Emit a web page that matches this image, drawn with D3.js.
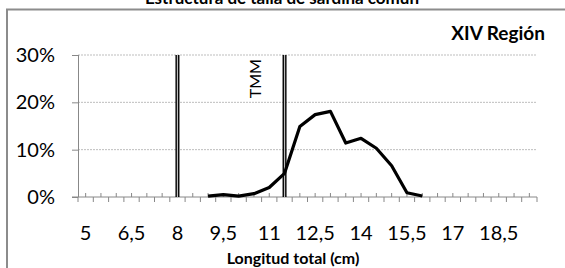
<!DOCTYPE html>
<html>
<head>
<meta charset="utf-8">
<script src="https://cdn.jsdelivr.net/npm/d3@7"></script>
<style>
  body { margin: 0; background: #fff; }
  svg { display: block; font-family: Lato, "Open Sans", sans-serif; }
</style>
</head>
<body>
<div id="chart"></div>
<script>
// Size of the picture
const width = 565;
const height = 268;
const margin = {left: 78, right: 28, top: 55, bottom: 71};

// Length classes (cm), one band each
const categories = [5, 5.5, 6, 6.5, 7, 7.5, 8, 8.5, 9, 9.5, 10, 10.5, 11, 11.5, 12,
                    12.5, 13, 13.5, 14, 14.5, 15, 15.5, 16, 16.5, 17, 17.5, 18, 18.5, 19, 19.5];
// Classes that have a frequency, and their share (fraction)
const lengths = [9, 9.5, 10, 10.5, 11, 11.5, 12, 12.5, 13, 13.5, 14, 14.5, 15, 15.5, 16];
const freqs = [0.002, 0.005, 0.002, 0.007, 0.020, 0.050, 0.149, 0.174, 0.181, 0.114, 0.124, 0.103, 0.066, 0.009, 0.002];
// Labelled classes on the x axis
const xLabels = [5, 6.5, 8, 9.5, 11, 12.5, 14, 15.5, 17, 18.5];
const yTicks = [0, 0.1, 0.2, 0.3];
// Reference lines (cm)
const refLines = [8, 11.5];
const refLabel = "TMM";

const title = "Estructura de talla de sardina común";
const region = "XIV Región";
const xTitle = "Longitud total (cm)";

const svg = d3.select("#chart")
  .append("svg")
  .attr("width", width)
  .attr("height", height);

// Chart area frame (runs off the picture at right and bottom)
svg.append("rect")
  .attr("x", 7)
  .attr("y", 9.5)
  .attr("width", 600)
  .attr("height", 300)
  .attr("fill", "none")
  .attr("stroke", "#8c8c8c")
  .attr("stroke-width", 2);

// Title, mostly cut off at top
svg.append("text")
  .attr("x", 282)
  .attr("y", 4)
  .attr("text-anchor", "middle")
  .attr("font-size", "17px")
  .attr("font-weight", "bold")
  .text(title);

// Scales
const xScale = d3.scaleBand()
  .domain(categories)
  .range([margin.left, width - margin.right]);

const yScale = d3.scaleLinear()
  .domain([0, 0.3])
  .range([height - margin.bottom, margin.top]);

const xc = d => xScale(d) + xScale.bandwidth() / 2;

// Gridlines
svg.append("g")
  .selectAll("line")
  .data(yTicks.filter(d => d > 0))
  .join("line")
    .attr("x1", margin.left)
    .attr("x2", width - margin.right)
    .attr("y1", d => yScale(d))
    .attr("y2", d => yScale(d))
    .attr("stroke", "#bdbdbd")
    .attr("stroke-dasharray", "2,1");

// Y axis
const yAxis = svg.append("g")
  .attr("transform", `translate(${margin.left},0)`)
  .call(d3.axisLeft(yScale)
    .tickValues(yTicks)
    .tickFormat(d3.format(".0%"))
    .tickSize(6)
    .tickPadding(17));
yAxis.select(".domain").attr("stroke", "#888").attr("d", `M0.5,${yScale(0.3)}V${yScale(0)}`);
yAxis.selectAll(".tick line").attr("stroke", "#888");
yAxis.selectAll("text")
  .attr("font-size", "20px")
  .attr("font-family", "Lato, sans-serif")
  .attr("fill", "#000");

// X axis: ticks below at class edges
const edges = categories.map(d => xScale(d)).concat([width - margin.right]);
const xAxis = svg.append("g")
  .attr("transform", `translate(0,${yScale(0)})`);
xAxis.append("line")
  .attr("x1", margin.left - 6)
  .attr("x2", width - margin.right)
  .attr("stroke", "#888");
xAxis.selectAll(".edge")
  .data(edges)
  .join("line")
    .attr("class", "edge")
    .attr("x1", d => d)
    .attr("x2", d => d)
    .attr("y1", 0)
    .attr("y2", 5)
    .attr("stroke", "#888");
// small ticks above at class centres
xAxis.selectAll(".mid")
  .data(categories)
  .join("line")
    .attr("class", "mid")
    .attr("x1", d => xc(d))
    .attr("x2", d => xc(d))
    .attr("y1", 0)
    .attr("y2", -4)
    .attr("stroke", "#888");
xAxis.selectAll(".lab")
  .data(xLabels)
  .join("text")
    .attr("class", "lab")
    .attr("x", d => xc(d))
    .attr("y", 43)
    .attr("text-anchor", "middle")
    .attr("font-size", "20px")
    .text(d => String(d).replace(".", ","));

// Reference lines (double line)
refLines.forEach(v => {
  svg.append("line")
    .attr("x1", xc(v)).attr("x2", xc(v))
    .attr("y1", yScale(0.3)).attr("y2", yScale(0))
    .attr("stroke", "#000")
    .attr("stroke-width", 4);
  svg.append("line")
    .attr("x1", xc(v)).attr("x2", xc(v))
    .attr("y1", yScale(0.3)).attr("y2", yScale(0))
    .attr("stroke", "#bbb")
    .attr("stroke-width", 1.2);
});

svg.append("text")
  .attr("transform", `translate(${xc(11.5) - 24},${yScale(0.25)}) rotate(-90)`)
  .attr("text-anchor", "middle")
  .attr("font-size", "16px")
  .text(refLabel);

// Frequency line
const line = d3.line()
  .x((d, i) => xc(lengths[i]))
  .y(d => yScale(d));

svg.append("path")
  .datum(freqs)
  .attr("fill", "none")
  .attr("stroke", "#000")
  .attr("stroke-width", 3.2)
  .attr("stroke-linejoin", "round")
  .attr("d", line);

// Region label and axis title
svg.append("text")
  .attr("x", 545)
  .attr("y", 40)
  .attr("text-anchor", "end")
  .attr("font-size", "19px")
  .attr("font-weight", "bold")
  .text(region);

svg.append("text")
  .attr("x", 293)
  .attr("y", 264)
  .attr("text-anchor", "middle")
  .attr("font-size", "16px")
  .attr("font-weight", "bold")
  .text(xTitle);
</script>
</body>
</html>
